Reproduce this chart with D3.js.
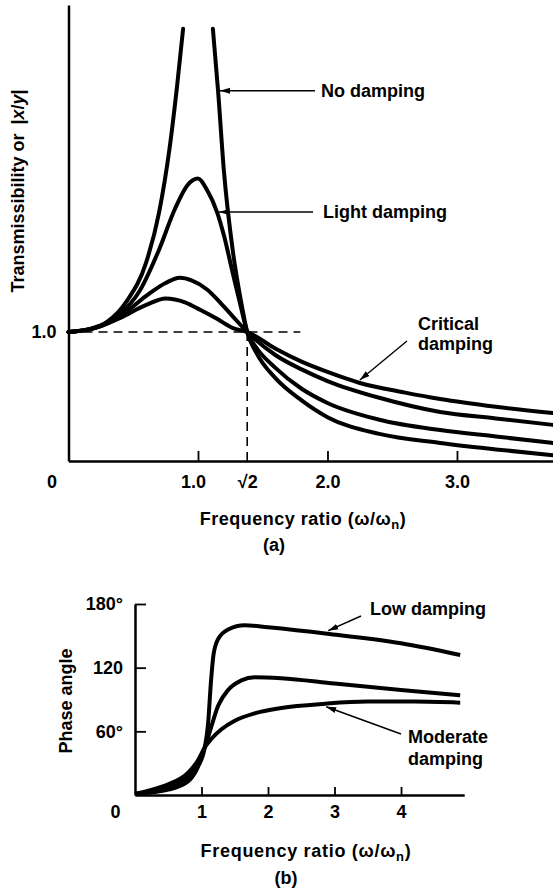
<!DOCTYPE html>
<html><head><meta charset="utf-8">
<script src="https://cdn.jsdelivr.net/npm/d3@7"></script>
<style>
body{margin:0;background:#fff}
svg{display:block}
text{font-family:"Liberation Sans",Arial,sans-serif;font-weight:bold;fill:#000;font-size:18px}
</style></head><body>
<svg id="c" width="553" height="892"></svg>
<script>
// ---------- DATA ----------
// (a) transmissibility vs frequency ratio, [ratio, transmissibility]
const noDampingBelow = [[0,1.0],[0.15,1.02],[0.3,1.08],[0.45,1.24],[0.6,1.54],[0.7,1.93],[0.78,2.42],[0.84,2.92],[0.885,3.35]];
const noDampingAbove = [[1.115,3.35],[1.155,2.87],[1.2,2.25],[1.27,1.62],[1.33,1.25],[1.38,1.0],[1.45,0.84],[1.6,0.64],[1.8,0.47],[2.0,0.34],[2.4,0.21],[2.87,0.14],[3.3,0.09],[3.74,0.045]];
const lightDamping = [[0,1.0],[0.2,1.03],[0.4,1.14],[0.55,1.32],[0.7,1.64],[0.82,1.95],[0.92,2.14],[1.0,2.19],[1.07,2.1],[1.147,1.93],[1.2,1.75],[1.27,1.45],[1.33,1.2],[1.38,1.0],[1.45,0.88],[1.6,0.72],[1.8,0.56],[2.0,0.45],[2.4,0.32],[2.87,0.24],[3.3,0.19],[3.74,0.14]];
const moderateDamping = [[0,1.0],[0.2,1.03],[0.4,1.12],[0.6,1.28],[0.75,1.38],[0.86,1.42],[0.95,1.40],[1.07,1.33],[1.17,1.23],[1.27,1.12],[1.38,1.0],[1.6,0.82],[1.8,0.71],[2.0,0.62],[2.4,0.49],[2.87,0.38],[3.3,0.33],[3.74,0.28]];
const criticalDamping = [[0,1.0],[0.2,1.03],[0.4,1.11],[0.6,1.21],[0.75,1.26],[0.9,1.23],[1.02,1.17],[1.15,1.1],[1.27,1.03],[1.38,1.0],[1.6,0.87],[1.8,0.77],[2.0,0.69],[2.25,0.605],[2.6,0.53],[2.87,0.48],[3.3,0.42],[3.74,0.372]];
const topTickValues = [0, 1, 1.38, 2, 3];          // 1.38 = where √2 sits on the drawn axis
const topTickLabels = ["0", "1.0", "√2", "2.0", "3.0"];
const topYTickValues = [1];
const topYTickLabels = ["1.0"];
const guideLevel = 1.0, guideEnd = 1.79, sqrt2Pos = 1.38;

// (b) phase angle vs frequency ratio, [ratio, degrees]
const lowDamping = [[0,1],[0.2,2],[0.5,5],[0.8,13],[0.95,27],[1.05,45],[1.1,68],[1.14,105],[1.18,132],[1.25,147],[1.4,156],[1.65,160],[2.0,158],[2.89,152],[4.0,143],[4.89,132]];
const mediumDamping = [[0,1],[0.2,3],[0.5,8],[0.8,17],[0.95,31],[1.05,45],[1.15,65],[1.25,84],[1.4,99],[1.6,108],[1.8,111],[2.2,110],[3.0,105],[4.0,99],[4.89,94]];
const highDamping = [[0,1],[0.2,4],[0.5,10],[0.8,21],[0.95,33],[1.05,45],[1.15,53],[1.3,62],[1.5,70],[1.8,77],[2.2,82],[2.86,86],[3.5,88],[4.2,88],[4.89,87]];
const botTickValues = [0, 1, 2, 3, 4];
const botTickLabels = ["0", "1", "2", "3", "4"];
const botYTickValues = [60, 120, 180];
const botYTickLabels = ["60°", "120", "180°"];

// ---------- DRAWING ----------
const svg = d3.select("#c");
const defs = svg.append("defs");
defs.append("marker").attr("id","ah").attr("viewBox","0 0 10 10").attr("refX",10).attr("refY",5)
  .attr("markerWidth",10).attr("markerHeight",10).attr("markerUnits","userSpaceOnUse").attr("orient","auto")
  .append("path").attr("d","M0,2L10,5L0,8Z").attr("fill","#000");

// ---- chart (a)
const xA = d3.scaleLinear().domain([0, 3.74]).range([68.5, 552.8]);
const yA = d3.scaleLinear().domain([0, 3.535]).range([461, 5]);
const gA = svg.append("g");

// dashed guides
gA.append("path").attr("d", `M${xA(0)},${yA(guideLevel)}H${xA(guideEnd)}`)
  .attr("stroke","#000").attr("stroke-width",1.6).attr("stroke-dasharray","9,6").attr("fill","none");
gA.append("path").attr("d", `M${xA(sqrt2Pos)},${yA(guideLevel)}V${yA(0)}`)
  .attr("stroke","#000").attr("stroke-width",1.6).attr("stroke-dasharray","9,6").attr("fill","none");

const lineA = d3.line().x(d=>xA(d[0])).y(d=>yA(d[1])).curve(d3.curveMonotoneX);
[noDampingBelow, noDampingAbove, lightDamping, moderateDamping, criticalDamping].forEach(s=>{
  gA.append("path").attr("d", lineA(s)).attr("fill","none").attr("stroke","#000")
    .attr("stroke-width",4).attr("stroke-linejoin","round").attr("stroke-linecap","round");
});

// axes (a)
const axA = d3.axisBottom(xA).tickValues(topTickValues).tickFormat((d,i)=>topTickLabels[i])
  .tickSizeInner(-10).tickSizeOuter(0).tickPadding(14);
const gax = gA.append("g").attr("transform",`translate(0,${yA(0)})`).call(axA);
gax.select(".domain").attr("stroke-width",2.5);
gax.selectAll(".tick line").attr("stroke-width",1.8).attr("display",(d,i)=> (i===0||i===2)?"none":null);
gax.selectAll(".tick text").attr("font-size",18).attr("font-family",null)
  .attr("dx",(d,i)=> i===0 ? -17 : (i===1 ? -5 : 0));
const ayA = d3.axisLeft(yA).tickValues(topYTickValues).tickFormat((d,i)=>topYTickLabels[i]).tickSize(0).tickPadding(12);
const gay = gA.append("g").attr("transform",`translate(${xA(0)},0)`).call(ayA);
gay.select(".domain").attr("stroke-width",2.5);
gay.selectAll(".tick text").attr("font-size",18).attr("font-family",null);
svg.selectAll(".tick text").attr("fill","#000");

const yTitle = gA.append("text").attr("transform","translate(24,191) rotate(-90)").attr("text-anchor","middle")
  .attr("font-size",17);
yTitle.append("tspan").text("Transmissibility or");
yTitle.append("tspan").attr("dx",9).text("|");
yTitle.append("tspan").attr("font-style","italic").text("x");
yTitle.append("tspan").text("/");
yTitle.append("tspan").attr("font-style","italic").text("y");
yTitle.append("tspan").text("|");
const tA = gA.append("text").attr("x",303).attr("y",525).attr("text-anchor","middle").attr("letter-spacing","0.5");
tA.append("tspan").text("Frequency ratio (ω/ω");
tA.append("tspan").text("n").attr("font-size",13).attr("dy",4);
tA.append("tspan").text(")").attr("dy",-4);
gA.append("text").attr("x",274).attr("y",551).attr("text-anchor","middle").text("(a)");

// annotations (a)
function leader(g, x1, y1, x2, y2){
  g.append("line").attr("x1",x1).attr("y1",y1).attr("x2",x2).attr("y2",y2)
   .attr("stroke","#000").attr("stroke-width",1.4).attr("marker-end","url(#ah)");
}
leader(gA, 315, yA(2.87), xA(1.155)+2, yA(2.87));
gA.append("text").attr("x",321).attr("y",yA(2.87)+6).text("No damping");
leader(gA, 313, yA(1.93), xA(1.147)+2, yA(1.93));
gA.append("text").attr("x",323).attr("y",yA(1.93)+6).text("Light damping");
leader(gA, 407, 341, xA(2.25), yA(0.605)-3);
gA.append("text").attr("x",418).attr("y",330).text("Critical");
gA.append("text").attr("x",418).attr("y",350).text("damping");

// ---- chart (b)
const xB = d3.scaleLinear().domain([0, 4.95]).range([135, 464.2]);
const yB = d3.scaleLinear().domain([0, 180]).range([795, 604]);
const gB = svg.append("g");
const lineB = d3.line().x(d=>xB(d[0])).y(d=>yB(d[1])).curve(d3.curveMonotoneX);
[lowDamping, mediumDamping, highDamping].forEach(s=>{
  gB.append("path").attr("d", lineB(s)).attr("fill","none").attr("stroke","#000")
    .attr("stroke-width",4).attr("stroke-linejoin","round").attr("stroke-linecap","butt");
});
const axB = d3.axisBottom(xB).tickValues(botTickValues).tickFormat((d,i)=>botTickLabels[i])
  .tickSizeInner(-8).tickSizeOuter(0).tickPadding(10);
const gbx = gB.append("g").attr("transform",`translate(0,${yB(0)})`).call(axB);
gbx.select(".domain").attr("stroke-width",2.5);
gbx.selectAll(".tick line").attr("stroke-width",1.8).attr("display",(d,i)=> i===0?"none":null);
gbx.selectAll(".tick text").attr("font-size",18).attr("font-family",null).attr("dx",(d,i)=> i===0 ? -20 : 0);
const ayB = d3.axisLeft(yB).tickValues(botYTickValues).tickFormat((d,i)=>botYTickLabels[i])
  .tickSizeInner(-11).tickSizeOuter(0).tickPadding(12);
const gby = gB.append("g").attr("transform",`translate(${xB(0)},0)`).call(ayB);
gby.select(".domain").attr("stroke-width",2.5);
gby.selectAll(".tick line").attr("stroke-width",1.8);
gby.selectAll(".tick text").attr("font-size",18).attr("font-family",null);
svg.selectAll(".tick text").attr("fill","#000");
svg.selectAll(".domain").attr("stroke","#000");

gB.append("text").attr("transform","translate(72,701) rotate(-90)").attr("text-anchor","middle")
  .attr("font-size",17).text("Phase angle");
const tB = gB.append("text").attr("x",306).attr("y",857).attr("text-anchor","middle").attr("letter-spacing","0.7");
tB.append("tspan").text("Frequency ratio (ω/ω");
tB.append("tspan").text("n").attr("font-size",13).attr("dy",4);
tB.append("tspan").text(")").attr("dy",-4);
gB.append("text").attr("x",286).attr("y",884).attr("text-anchor","middle").text("(b)");

leader(gB, 361, 616, xB(2.89)+1, yB(152)-3);
gB.append("text").attr("x",370).attr("y",615).text("Low damping");
leader(gB, 401, 734, xB(2.86)+1, yB(86)+3);
gB.append("text").attr("x",408).attr("y",743).text("Moderate");
gB.append("text").attr("x",408).attr("y",765).text("damping");
</script>
</body></html>
